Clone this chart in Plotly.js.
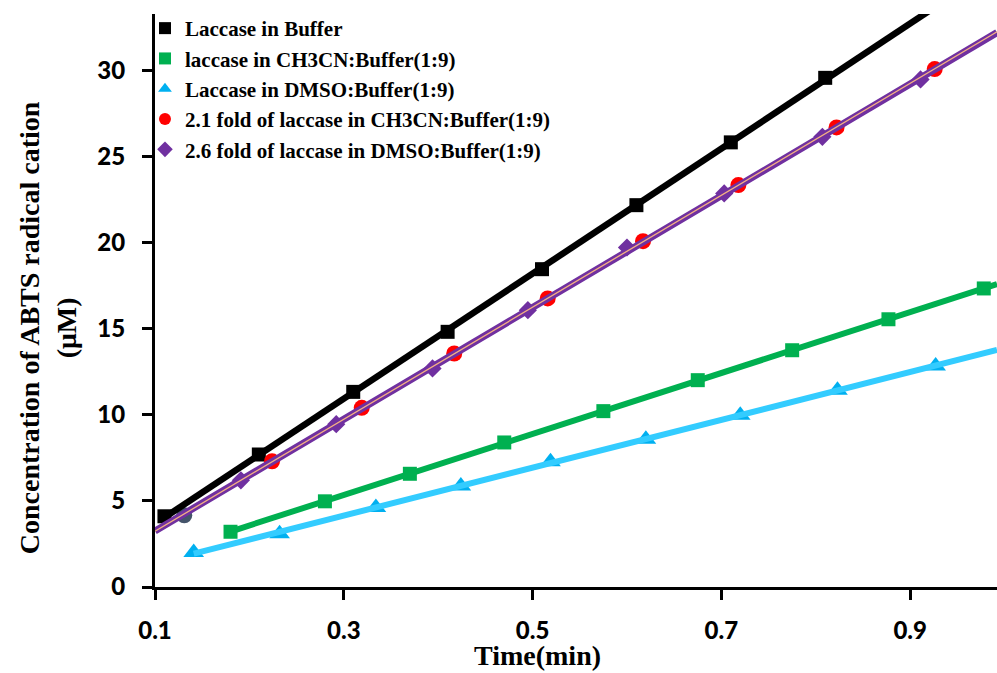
<!DOCTYPE html>
<html>
<head>
<meta charset="utf-8">
<script src="https://cdn.plot.ly/plotly-3.0.1.min.js"></script>
<style>html,body{margin:0;padding:0;background:#fff;}#chart{width:997px;height:673px;}</style>
</head>
<body>
<div id="chart"></div>
<script>
// ---- data ----
const seriesNames = [
  "Laccase in Buffer",
  "laccase in CH3CN:Buffer(1:9)",
  "Laccase in DMSO:Buffer(1:9)",
  "2.1 fold of laccase in CH3CN:Buffer(1:9)",
  "2.6 fold of laccase in DMSO:Buffer(1:9)"
];
const bufX = [0.11, 0.21, 0.31, 0.41, 0.51, 0.61, 0.71, 0.81];
const bufY = [4.11, 7.70, 11.34, 14.83, 18.47, 22.19, 25.84, 29.59];

const acnX = [0.18, 0.28, 0.37, 0.47, 0.575, 0.675, 0.775, 0.877, 0.978];
const acnY = [3.21, 4.98, 6.58, 8.40, 10.22, 12.02, 13.76, 15.56, 17.35];

const dmsoX = [0.141, 0.232, 0.334, 0.424, 0.519, 0.620, 0.720, 0.823, 0.927];
const dmsoY = [2.00, 3.10, 4.62, 5.87, 7.28, 8.59, 9.98, 11.43, 12.85];

const acn21X = [0.131, 0.224, 0.319, 0.417, 0.516, 0.617, 0.718, 0.822, 0.926];
const acn21Y = [4.17, 7.31, 10.41, 13.57, 16.77, 20.10, 23.36, 26.71, 30.10];

const dmso26X = [0.191, 0.292, 0.394, 0.495, 0.600, 0.703, 0.807, 0.911];
const dmso26Y = [6.20, 9.46, 12.70, 16.09, 19.73, 22.87, 26.16, 29.50];

const xTickVals = [0.1, 0.3, 0.5, 0.7, 0.9];
const xTickText = ["0.1", "0.3", "0.5", "0.7", "0.9"];
const yTickVals = [0, 5, 10, 15, 20, 25, 30];
const xRange = [0.1, 0.992];
const yRange = [0, 33.3];

// ---- helpers ----
function fit(xs, ys) {
  const n = xs.length;
  let sx = 0, sy = 0, sxx = 0, sxy = 0;
  for (let i = 0; i < n; i++) { sx += xs[i]; sy += ys[i]; sxx += xs[i] * xs[i]; sxy += xs[i] * ys[i]; }
  const m = (n * sxy - sx * sy) / (n * sxx - sx * sx);
  const b = (sy - m * sx) / n;
  return {m, b};
}
function trend(xs, ys, x0, x1, color, width) {
  const f = fit(xs, ys);
  return {
    x: [x0, x1], y: [f.m * x0 + f.b, f.m * x1 + f.b],
    mode: 'lines', type: 'scatter', showlegend: false, hoverinfo: 'skip',
    line: {color: color, width: width}
  };
}
function pts(name, xs, ys, symbol, color, size, group, show) {
  return {
    name: '<b>' + name + '</b>', x: xs, y: ys, type: 'scatter', mode: 'markers',
    legendgroup: group, showlegend: show,
    marker: {symbol: symbol, color: color, size: size, line: {width: 0}}
  };
}

const traces = [
  pts(seriesNames[0], bufX, bufY, 'square', '#000000', 14, 'g0', true),
  pts(seriesNames[1], acnX, acnY, 'square', '#00b050', 14, 'g1', true),
  pts(seriesNames[2], dmsoX, dmsoY, 'triangle-up', '#00b0f0', 18, 'g2', true),
  pts(seriesNames[3], acn21X.slice(1), acn21Y.slice(1), 'circle', '#ff0000', 16, 'g3', true),
  pts(seriesNames[3], acn21X.slice(0, 1), acn21Y.slice(0, 1), 'circle', '#44546a', 16, 'g3', false),
  pts(seriesNames[4], dmso26X, dmso26Y, 'diamond', '#7030a0', 14, 'g4', true),
  trend(dmsoX, dmsoY, dmsoX[0], xRange[1], '#33ccff', 6),
  trend(acnX, acnY, acnX[0], xRange[1], '#00b050', 6),
  trend(bufX, bufY, bufX[0], xRange[1], '#000000', 6.5),
  trend(dmso26X, dmso26Y, xRange[0], xRange[1], '#7030a0', 7),
  trend(acn21X, acn21Y, xRange[0], xRange[1], '#f4b183', 1.3)
];

const tickFont = {family: 'Lato, "Open Sans", sans-serif', size: 24, color: '#000', weight: 900};
const titleFont = {family: '"Liberation Serif", "Times New Roman", serif', size: 28, color: '#000', weight: 'bold'};

const layout = {
  width: 997, height: 673,
  margin: {l: 155, r: 0, t: 14, b: 86, pad: 0},
  paper_bgcolor: '#fff', plot_bgcolor: '#fff',
  showlegend: true,
  legend: {
    x: -0.0119, y: 1.0105, xanchor: 'left', yanchor: 'top',
    bgcolor: 'rgba(0,0,0,0)', borderwidth: 0,
    traceorder: 'grouped', tracegroupgap: 0,
    itemwidth: 30, itemsizing: 'constant',
    font: {family: '"Liberation Serif", "Times New Roman", serif', size: 21, color: '#000', weight: 'bold'}
  },
  xaxis: {
    range: xRange, tickvals: xTickVals, ticktext: xTickText,
    showgrid: false, zeroline: false,
    showline: true, linecolor: '#000', linewidth: 3,
    ticks: 'outside', ticklen: 10, tickwidth: 3, tickcolor: '#000',
    ticklabelstandoff: 10,
    tickfont: tickFont
  },
  yaxis: {
    range: yRange, tickvals: yTickVals,
    showgrid: false, zeroline: false,
    showline: true, linecolor: '#000', linewidth: 3,
    ticks: 'outside', ticklen: 10, tickwidth: 3, tickcolor: '#000',
    ticklabelstandoff: 12,
    tickfont: tickFont
  },
  annotations: [
    {text: '<b>Time(min)</b>', xref: 'paper', yref: 'paper', x: 0.4537, y: -0.1187,
     xanchor: 'center', yanchor: 'middle', showarrow: false, font: titleFont},
    {text: '<b>Concentration of ABTS radical cation<br>(μM)</b>', xref: 'paper', yref: 'paper',
     x: -0.128, y: 0.452, xanchor: 'center', yanchor: 'middle', textangle: -90,
     showarrow: false, font: titleFont}
  ]
};

Plotly.newPlot('chart', traces, layout, {displayModeBar: false, staticPlot: true});
</script>
</body>
</html>
